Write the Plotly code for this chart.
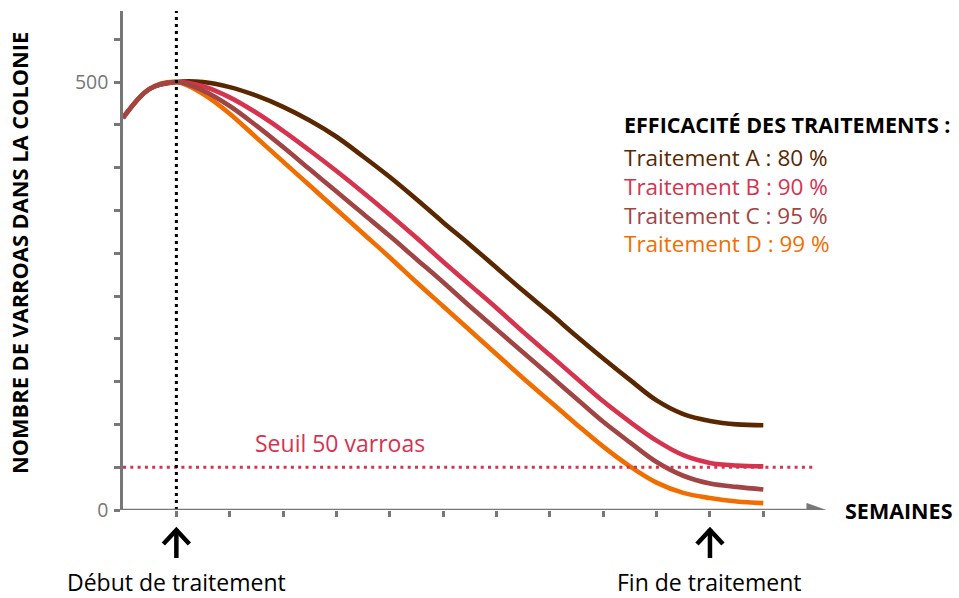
import plotly.graph_objects as go

# ---- data ----
weeks = [0, 0.5, 1, 1.5, 2, 2.5, 3, 3.5, 4, 4.5, 5, 5.5, 6, 6.5, 7, 7.5, 8, 8.5, 9, 9.5, 10, 10.5, 11, 11.5, 12]
trait_a = [458, 492, 500, 500, 494, 484, 471, 455, 436, 413, 389, 363, 336, 310, 283, 256, 230, 203, 177, 152, 128, 112, 104, 100, 99]
trait_b = [458, 492, 500, 495, 482, 464, 443, 420, 396, 371, 345, 318, 290, 263, 236, 208, 181, 154, 127, 103, 81, 64, 55, 52, 51]
trait_c = [458, 492, 500, 490, 472, 449, 424, 398, 372, 346, 320, 293, 266, 238, 211, 184, 157, 130, 103, 79, 56, 40, 31, 27, 24]
trait_d = [458, 492, 500, 486, 463, 435, 407, 379, 351, 323, 295, 266, 238, 210, 182, 154, 127, 100, 74, 51, 32, 20, 14, 10, 8]

series_names = ["Traitement A", "Traitement B", "Traitement C", "Traitement D"]
efficacy = ["80 %", "90 %", "95 %", "99 %"]
colors = ["#5a2800", "#d6334f", "#a04444", "#f06e00"]

threshold = 50
start_week = 1
end_week = 11
y_tick_vals = list(range(0, 600, 50))
y_tick_text = ["0" if v == 0 else ("500" if v == 500 else "") for v in y_tick_vals]
x_tick_vals = list(range(1, 13))

# ---- layout geometry (pixels) ----
W_FIG, H_FIG = 959, 598
L, R, T, B = 123, 129, 11, 88
PW = W_FIG - L - R
PH = H_FIG - T - B
PX_PER_WEEK = 53.36
PX_PER_UNIT = 0.856
x_max = PW / PX_PER_WEEK
y_max = PH / PX_PER_UNIT

def pxx(p):
    return (p - L) / PW

def pxy(p):
    return (H_FIG - B - p) / PH

FONT = "Open Sans, Noto Sans, sans-serif"
GRAY = "#777777"

fig = go.Figure()

# draw order: A, B, D, C (C on top)
series = [trait_a, trait_b, trait_c, trait_d]
for idx in [0, 1, 3, 2]:
    fig.add_trace(go.Scatter(
        x=weeks, y=series[idx], mode="lines",
        line=dict(color=colors[idx], width=4.6, shape="spline", smoothing=1.0),
        name=series_names[idx], showlegend=False, hoverinfo="skip",
    ))

shapes = []
shapes.append(dict(type="line", xref="x", yref="y", x0=0, x1=12.96, y0=threshold, y1=threshold,
                   line=dict(color="#d6334f", width=3, dash="3px,4.3px"), layer="above"))
shapes.append(dict(type="line", xref="x", yref="paper", x0=start_week, x1=start_week, y0=0, y1=1,
                   line=dict(color="black", width=3, dash="3px,4px"), layer="above"))
shapes.append(dict(type="line", xref="x", yref="y", x0=0, x1=12.85, y0=0, y1=0,
                   line=dict(color=GRAY, width=2.5), layer="above"))
shapes.append(dict(type="path", xref="x", yref="y", xsizemode="pixel", ysizemode="pixel",
                   xanchor=13.17, yanchor=0, path="M0,0 L-19,6.7 L-19,-6.7 Z",
                   fillcolor=GRAY, line=dict(color=GRAY, width=0.5), layer="above"))
for wk in [start_week, end_week]:
    shapes.append(dict(type="path", xref="x", yref="paper", xsizemode="pixel", ysizemode="pixel",
                       xanchor=wk, yanchor=0, path="M0,-19 L0,-48",
                       line=dict(color="black", width=4.5)))
    shapes.append(dict(type="path", xref="x", yref="paper", xsizemode="pixel", ysizemode="pixel",
                       xanchor=wk, yanchor=0, path="M-13,-34 L0,-20 L13,-34",
                       line=dict(color="black", width=4.5)))

annotations = []
annotations.append(dict(text="<b>EFFICACITÉ DES TRAITEMENTS :</b>", xref="paper", yref="paper",
                        x=pxx(622), y=pxy(124), xanchor="left", yanchor="middle", showarrow=False,
                        font=dict(family=FONT, size=21.5, color="black")))
for i, (nm, ef) in enumerate(zip(series_names, efficacy)):
    annotations.append(dict(text=f"{nm} : {ef}", xref="paper", yref="paper",
                            x=pxx(622), y=pxy(158 + 28.6 * i), xanchor="left", yanchor="middle",
                            showarrow=False, font=dict(family=FONT, size=22.5, color=colors[i])))
annotations.append(dict(text=f"Seuil {threshold} varroas", xref="paper", yref="paper",
                        x=pxx(340), y=pxy(443), xanchor="center", yanchor="middle", showarrow=False,
                        font=dict(family=FONT, size=23, color="#d6334f")))
annotations.append(dict(text="<b>SEMAINES</b>", xref="paper", yref="paper",
                        x=pxx(843), y=pxy(510), xanchor="left", yanchor="middle", showarrow=False,
                        font=dict(family=FONT, size=21.5, color="black")))
annotations.append(dict(text="Début de traitement", xref="x", yref="paper",
                        x=start_week, y=pxy(582), xanchor="center", yanchor="middle", showarrow=False,
                        font=dict(family=FONT, size=23, color="black")))
annotations.append(dict(text="Fin de traitement", xref="x", yref="paper",
                        x=end_week, y=pxy(582), xanchor="center", yanchor="middle", showarrow=False,
                        font=dict(family=FONT, size=23, color="black")))
annotations.append(dict(text="<b>NOMBRE DE VARROAS DANS LA COLONIE</b>", xref="paper", yref="paper",
                        x=pxx(19), y=pxy(253), xanchor="center", yanchor="middle", showarrow=False,
                        textangle=-90, font=dict(family=FONT, size=21.8, color="black")))

fig.update_layout(
    width=W_FIG, height=H_FIG,
    margin=dict(l=L, r=R, t=T, b=B),
    paper_bgcolor="white", plot_bgcolor="white",
    showlegend=False,
    shapes=shapes, annotations=annotations,
    xaxis=dict(range=[0, x_max], showgrid=False, zeroline=False, showline=False,
               tickvals=x_tick_vals, ticks="outside", ticklen=6, tickwidth=2.5, tickcolor=GRAY,
               showticklabels=False, fixedrange=True),
    yaxis=dict(range=[0, y_max], showgrid=False, zeroline=False, showline=True,
               linecolor=GRAY, linewidth=2.5,
               tickvals=y_tick_vals, ticktext=y_tick_text, ticks="outside", ticklen=6,
               tickwidth=2.5, tickcolor=GRAY, ticklabelstandoff=2,
               tickfont=dict(family=FONT, size=19.5, color=GRAY), fixedrange=True),
)

fig.write_html("out.html", config={"displayModeBar": False},
               post_script="document.body.style.margin='0';document.body.style.overflow='hidden';")
